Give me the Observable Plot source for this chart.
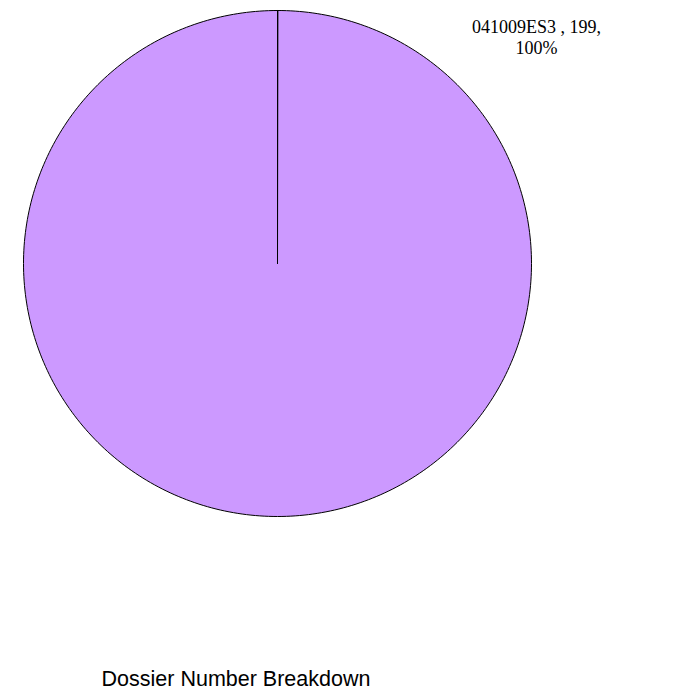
<!DOCTYPE html>
<html>
<head>
<meta charset="utf-8">
<script src="https://cdn.jsdelivr.net/npm/d3@7"></script>
<script src="https://cdn.jsdelivr.net/npm/@observablehq/plot@0.6"></script>
<style>
  html, body { margin: 0; padding: 0; background: #fff; }
  #wrap { position: relative; width: 677px; height: 699px; }
  #title { position: absolute; left: 0; width: 472px; top: 667px; text-align: center;
           font-family: "Liberation Sans", Arial, sans-serif; font-size: 21.5px; color: #000; }
</style>
</head>
<body>
<div id="wrap"><div id="chart"></div><div id="title">Dossier Number Breakdown</div></div>
<script>
const categories = ["041009ES3 "];
const counts = [199];
const percents = ["100%"];
const colors = ["#cc99ff"];

const slices = d3.pie().sort(null).value(d => d.count)(
  categories.map((c, i) => ({name: c, count: counts[i], pct: percents[i], color: colors[i]}))
);
const pts = [];
for (const s of slices) {
  const n = 360;
  pts.push({name: s.data.name, x: 0, y: 0, color: s.data.color});
  for (let k = 0; k <= n; k++) {
    const a = s.startAngle + (s.endAngle - s.startAngle) * k / n;
    pts.push({name: s.data.name, x: Math.sin(a), y: Math.cos(a), color: s.data.color});
  }
}
const labels = slices.map(s => ({text: `${s.data.name}, ${s.data.count},\n${s.data.pct}`}));

const chart = Plot.plot({
  width: 677,
  height: 530,
  marginLeft: 23,
  marginRight: 146,
  marginTop: 10,
  marginBottom: 14,
  x: {domain: [-1, 1], axis: null},
  y: {domain: [-1, 1], axis: null},
  color: {type: "identity"},
  marks: [
    Plot.line(pts, {x: "x", y: "y", z: "name", fill: "color", stroke: "#000", strokeWidth: 1, curve: "linear-closed"}),
    Plot.text(labels, {text: "text", frameAnchor: "top-right", textAnchor: "middle", lineAnchor: "top",
      dx: 5, dy: 7, lineHeight: 1.2, fontSize: 18, fontFamily: "Liberation Serif, Times New Roman, serif", fill: "#000"})
  ]
});
document.getElementById("chart").appendChild(chart);
</script>
</body>
</html>
